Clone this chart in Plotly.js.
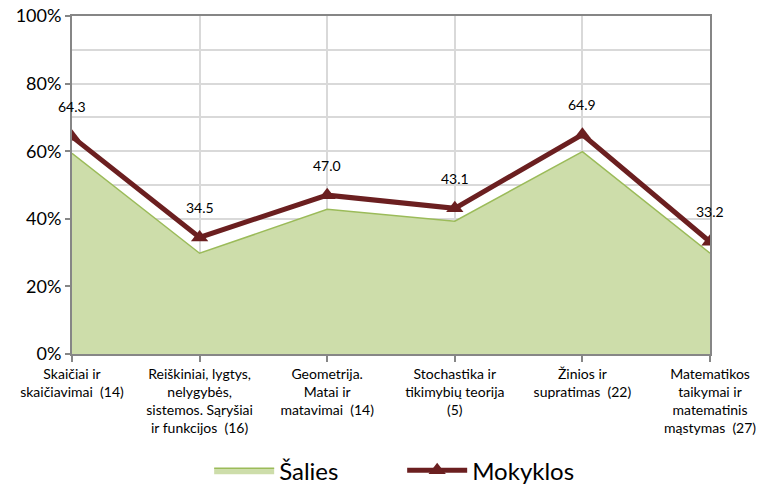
<!DOCTYPE html>
<html>
<head>
<meta charset="utf-8">
<script src="https://cdn.plot.ly/plotly-3.0.1.min.js"></script>
<style>html,body{margin:0;padding:0;background:#fff;}#chart{width:758px;height:490px;}</style>
</head>
<body>
<div id="chart"></div>
<script>
const categories = [
  "Skaičiai ir<br>skaičiavimai  (14)",
  "Reiškiniai, lygtys,<br>nelygybės,<br>sistemos. Sąryšiai<br>ir funkcijos  (16)",
  "Geometrija.<br>Matai ir<br>matavimai  (14)",
  "Stochastika ir<br>tikimybių teorija<br>(5)",
  "Žinios ir<br>supratimas  (22)",
  "Matematikos<br>taikymai ir<br>matematinis<br>mąstymas  (27)"
];
const salies = [59.4, 29.8, 42.8, 39.3, 59.9, 29.8];
const mokyklos = [64.3, 34.5, 47.0, 43.1, 64.9, 33.2];
const yTickVals = [0, 20, 40, 60, 80, 100];
const yTickText = ["0%", "20%", "40%", "60%", "80%", "100%"];

const FONT = "Lato, 'Liberation Sans Narrow', 'Open Sans', sans-serif";
const idx = categories.map((c, i) => i);

const traces = [
  {
    x: idx, y: salies, name: "Šalies", type: "scatter", mode: "lines",
    fill: "tozeroy", fillcolor: "rgb(205,221,170)",
    line: {color: "#9BBB59", width: 1.5}
  },
  {
    x: idx, y: mokyklos, name: "Mokyklos", type: "scatter", mode: "lines+markers",
    line: {color: "#6B1F20", width: 5},
    marker: {symbol: "triangle-up", size: 15, color: "#6B1F20"}
  }
];

const annotations = mokyklos.map((v, i) => ({
  x: i, y: v, xref: "x", yref: "y", text: v.toFixed(1), showarrow: false,
  yshift: 30, font: {family: FONT, size: 14, color: "#000"}
}));

const layout = {
  width: 758, height: 490,
  margin: {l: 72, r: 48, t: 16, b: 136, autoexpand: false},
  paper_bgcolor: "#fff", plot_bgcolor: "#fff",
  font: {family: FONT, color: "#000"},
  showlegend: true,
  legend: {orientation: "h", x: 0.215, xanchor: "left", y: -0.345, yanchor: "middle",
           font: {family: FONT, size: 24, color: "#000"}, itemwidth: 60,
           entrywidth: 118, entrywidthmode: "pixels", tracegroupgap: 0},
  xaxis: {
    type: "linear", range: [0, 5], tickvals: idx, ticktext: categories, automargin: false,
    showgrid: true, gridcolor: "#D9D9D9", gridwidth: 2,
    showline: true, linecolor: "#868686", linewidth: 2, mirror: true,
    ticks: "outside", ticklen: 6, tickcolor: "#868686", tickwidth: 2,
    tickfont: {family: FONT, size: 14, color: "#000"}, zeroline: false, fixedrange: true
  },
  yaxis: {
    range: [0, 100], tickvals: yTickVals, ticktext: yTickText, automargin: false,
    showgrid: true, gridcolor: "#D9D9D9", gridwidth: 2,
    minor: {dtick: 10, tick0: 0, showgrid: true, gridcolor: "#D9D9D9", gridwidth: 2, ticks: ""},
    showline: true, linecolor: "#868686", linewidth: 2, mirror: true,
    ticks: "outside", ticklen: 5, tickcolor: "#868686", tickwidth: 2,
    tickfont: {family: FONT, size: 18, color: "#000"}, zeroline: false, fixedrange: true
  },
  annotations: annotations
};

Plotly.newPlot("chart", traces, layout, {displayModeBar: false, staticPlot: true});
</script>
</body>
</html>
